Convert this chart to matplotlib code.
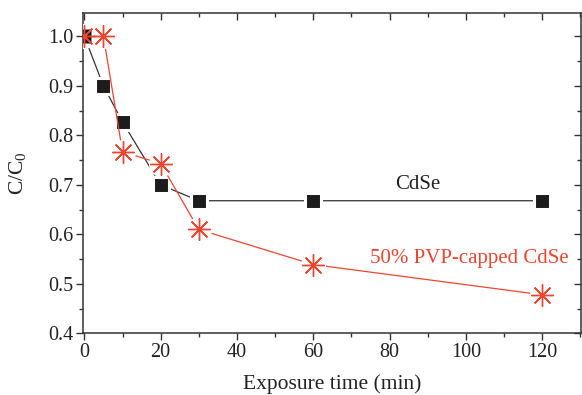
import matplotlib
matplotlib.use("Agg")
import matplotlib.pyplot as plt
from matplotlib.ticker import MultipleLocator

plt.rcParams['font.family'] = ['Liberation Serif', 'DejaVu Serif']
plt.rcParams['mathtext.fontset'] = 'custom'
plt.rcParams['mathtext.rm'] = 'Liberation Serif'

# data
time_cdse = [0, 5, 10, 20, 30, 60, 120]
ratio_cdse = [1.0, 0.90, 0.827, 0.70, 0.668, 0.668, 0.668]
time_pvp = [0, 5, 10, 20, 30, 60, 120]
ratio_pvp = [1.0, 1.0, 0.767, 0.743, 0.610, 0.539, 0.478]

black = '#1c1c1c'
red = '#ee4530'

fig = plt.figure(figsize=(5.82, 3.95), dpi=100)
ax = fig.add_axes([0.143, 0.156, 0.856, 0.812])

# CdSe: line with gaps around square markers
ax.plot(time_cdse, ratio_cdse, color='#333333', lw=0.9, zorder=2)
ax.plot(time_cdse, ratio_cdse, ls='none', marker='s', ms=11.5,
        mfc=black, mec='white', mew=2.2, zorder=3)

# PVP-capped: line, white blobs for the gaps, then asterisks
ax.plot(time_pvp, ratio_pvp, color=red, lw=0.9, zorder=4)
ax.plot(time_pvp, ratio_pvp, ls='none', marker='o', ms=18,
        mfc='white', mec='none', zorder=5)
ax.plot(time_pvp[:1], ratio_pvp[:1], ls='none', marker='s', ms=10,
        mfc=black, mec='none', zorder=5)
ax.plot(time_pvp, ratio_pvp, ls='none', marker=(8, 2, 0), ms=16,
        mec=red, mew=1.0, zorder=6)

ax.text(87.3, 0.70, 'CdSe', ha='center', va='center', fontsize=15, color='#222222')
ax.text(127, 0.552, '50% PVP-capped CdSe', ha='right', va='center',
        fontsize=15, color=red)

ax.set_xlim(-0.3, 130.3)
ax.set_ylim(0.4, 1.048)
ax.xaxis.set_major_locator(MultipleLocator(20))
ax.xaxis.set_minor_locator(MultipleLocator(10))
ax.yaxis.set_major_locator(MultipleLocator(0.1))
ax.yaxis.set_minor_locator(MultipleLocator(0.05))
ax.yaxis.set_major_formatter(matplotlib.ticker.FormatStrFormatter('%.1f'))

for s in ax.spines.values():
    s.set_linewidth(1.1)
    s.set_color('#333333')

ax.tick_params(which='both', direction='out', colors='#333333', width=1.0,
               labelsize=14.5, labelcolor='#222222')
ax.tick_params(which='major', length=5, pad=2)
ax.tick_params(which='minor', length=3)

# inward ticks on the top and right sides
tx = ax.secondary_xaxis('top')
tx.xaxis.set_major_locator(MultipleLocator(20))
tx.xaxis.set_minor_locator(MultipleLocator(10))
tx.tick_params(which='both', direction='in', labeltop=False, colors='#333333', width=1.0)
tx.tick_params(which='major', length=5)
tx.tick_params(which='minor', length=3)
ry = ax.secondary_yaxis('right')
ry.yaxis.set_major_locator(MultipleLocator(0.1))
ry.yaxis.set_minor_locator(MultipleLocator(0.05))
ry.tick_params(which='both', direction='in', labelright=False, colors='#333333', width=1.0)
ry.tick_params(which='major', length=5)
ry.tick_params(which='minor', length=3)
tx.spines['top'].set_visible(False)
ry.spines['right'].set_visible(False)

ax.set_xlabel('Exposure time (min)', fontsize=15.5, color='#222222', labelpad=9)
ax.set_ylabel('C/C$_0$', fontsize=15.5, color='#222222', labelpad=14)

fig.savefig('out.png', dpi=100)
